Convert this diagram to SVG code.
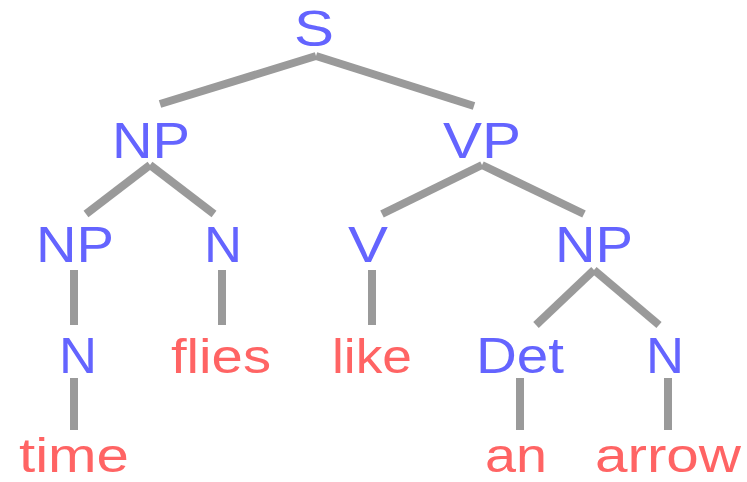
<svg xmlns="http://www.w3.org/2000/svg" width="747" height="482" viewBox="0 0 747 482">
<style>
.n{font-family:"Liberation Sans",Arial,sans-serif;font-size:50px;fill:#6464ff;text-anchor:middle}
.l{font-family:"Liberation Sans",Arial,sans-serif;font-size:48px;fill:#ff6464;text-anchor:middle}
.e{stroke:#9a9a9a;stroke-width:8;fill:none}
</style>
<rect width="747" height="482" fill="#fff"/>
<g id="edges">
<line class="e" x1="316" y1="56" x2="160" y2="104"/>
<line class="e" x1="316" y1="56" x2="474" y2="106"/>
<line class="e" x1="150" y1="165" x2="86" y2="214"/>
<line class="e" x1="150" y1="165" x2="214" y2="214"/>
<line class="e" x1="482" y1="165" x2="382" y2="214"/>
<line class="e" x1="482" y1="165" x2="584" y2="214"/>
<line class="e" x1="74" y1="270" x2="74" y2="325"/>
<line class="e" x1="222" y1="270" x2="222" y2="325"/>
<line class="e" x1="372" y1="270" x2="372" y2="325"/>
<line class="e" x1="594" y1="270" x2="536" y2="325"/>
<line class="e" x1="594" y1="270" x2="659" y2="325"/>
<line class="e" x1="74" y1="378" x2="74" y2="430"/>
<line class="e" x1="520" y1="378" x2="520" y2="430"/>
<line class="e" x1="668" y1="378" x2="668" y2="430"/>
</g>
<g id="S"><text class="n" x="314" y="46" textLength="40" lengthAdjust="spacingAndGlyphs">S</text></g>
<g id="NP1"><text class="n" x="151" y="158" textLength="78" lengthAdjust="spacingAndGlyphs">NP</text></g>
<g id="VP"><text class="n" x="482" y="158" textLength="78" lengthAdjust="spacingAndGlyphs">VP</text></g>
<g id="NP2"><text class="n" x="75" y="262" textLength="78" lengthAdjust="spacingAndGlyphs">NP</text></g>
<g id="N1"><text class="n" x="223" y="262" textLength="38" lengthAdjust="spacingAndGlyphs">N</text></g>
<g id="V"><text class="n" x="368" y="262" textLength="40" lengthAdjust="spacingAndGlyphs">V</text></g>
<g id="NP3"><text class="n" x="594" y="262" textLength="78" lengthAdjust="spacingAndGlyphs">NP</text></g>
<g id="N2"><text class="n" x="78" y="373" textLength="38" lengthAdjust="spacingAndGlyphs">N</text></g>
<g id="flies"><text class="l" x="221" y="373" textLength="100" lengthAdjust="spacingAndGlyphs">flies</text></g>
<g id="like"><text class="l" x="372" y="373" textLength="80" lengthAdjust="spacingAndGlyphs">like</text></g>
<g id="Det"><text class="n" x="520" y="373" textLength="88" lengthAdjust="spacingAndGlyphs">Det</text></g>
<g id="N3"><text class="n" x="665" y="373" textLength="38" lengthAdjust="spacingAndGlyphs">N</text></g>
<g id="time"><text class="l" x="74" y="472" textLength="110" lengthAdjust="spacingAndGlyphs">time</text></g>
<g id="an"><text class="l" x="516" y="472" textLength="62" lengthAdjust="spacingAndGlyphs">an</text></g>
<g id="arrow"><text class="l" x="668" y="472" textLength="146" lengthAdjust="spacingAndGlyphs">arrow</text></g>
</svg>
